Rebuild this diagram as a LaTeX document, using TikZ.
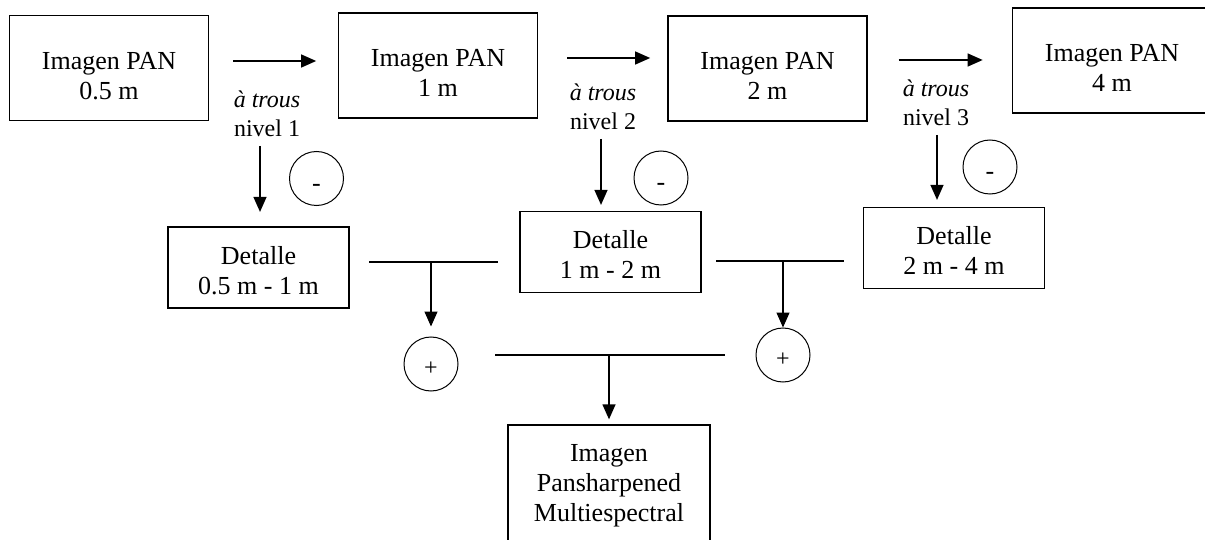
\documentclass[tikz,border=0pt]{standalone}
\usepackage{fontspec}
\setmainfont{Liberation Serif}
\usetikzlibrary{arrows.meta}
\newcommand{\pantop}{\rule{0pt}{33pt}}
\newcommand{\dettop}{\rule{0pt}{24pt}}
\tikzset{
  box/.style    = {shape=rectangle, draw, line width=1.3pt, align=center,
                   inner sep=0pt, font=\fontsize{26}{30}\selectfont},
  panbox/.style = {box, minimum width=199pt, minimum height=105pt},
  detbox/.style = {box, minimum width=181pt, minimum height=81pt},
  trous/.style  = {align=center, inner sep=0pt,
                   font=\fontsize{24}{28.5}\selectfont},
  minus/.style  = {circle, draw, line width=1pt, minimum size=54pt, inner sep=0pt,
                   text height=26pt, text depth=0pt, font=\fontsize{26}{26}\selectfont},
  plus/.style   = {minus, text height=22pt, font=\fontsize{24}{24}\selectfont},
  arr/.style    = {line width=1.3pt, -{Triangle[length=15pt,width=13pt]}},
  bar/.style    = {line width=1.2pt}
}

\begin{document}
\begin{tikzpicture}[x=1pt, y=-1pt]
  \useasboundingbox (0,0) rectangle (1205,540);
  \clip (0,0) rectangle (1205,540);

  % images PAN
  \node[panbox] (pan1) at (109,68)     {\pantop Imagen PAN\\0.5 m};
  \node[panbox] (pan2) at (438,65.5)   {\pantop Imagen PAN\\1 m};
  \node[panbox] (pan3) at (767.5,68.5) {\pantop Imagen PAN\\2 m};
  \node[panbox] (pan4) at (1112,60.5)  {\pantop Imagen PAN\\4 m};

  \draw[arr] ([shift={(24,-7)}]pan1.east) -- +(83,0);
  \draw[arr] ([shift={(29,-7.5)}]pan2.east) -- +(83,0);
  \draw[arr] ([shift={(31,-8.5)}]pan3.east) -- +(84,0);

  \node[trous] (lvl1) at (267,114)   {\textit{à trous}\\nivel 1};
  \node[trous] (lvl2) at (603,107)   {\textit{à trous}\\nivel 2};
  \node[trous] (lvl3) at (936,103)   {\textit{à trous}\\nivel 3};

  % detalles
  \node[detbox] (det1) at (258.5,267.5) {\dettop Detalle\\0.5 m - 1 m};
  \node[detbox] (det2) at (610.5,252)   {\dettop Detalle\\1 m - 2 m};
  \node[detbox] (det3) at (954,248)     {\dettop Detalle\\2 m - 4 m};

  \draw[arr] ([shift={(-7,9)}]lvl1.south) -- +(0,66);
  \draw[arr] ([shift={(-2,9)}]lvl2.south) -- +(0,66);
  \draw[arr] ([shift={(1,9)}]lvl3.south) -- +(0,65);

  \node[minus] (m1) at (316.5,178.5) {-};
  \node[minus] (m2) at (661,178)     {-};
  \node[minus] (m3) at (990,167)     {-};

  % suma
  \node[plus] (p1) at (431,364) {+};
  \node[plus] (p2) at (783,355) {+};

  \coordinate (j1a) at (369,262);
  \coordinate (j1b) at (498,262);
  \coordinate (j2a) at (716,261);
  \coordinate (j2b) at (844,261);
  \coordinate (j3a) at (495,355);
  \coordinate (j3b) at (725,355);

  \node[box, minimum width=202pt, minimum height=118pt] (res) at (609,484)
    {\rule{0pt}{21pt}Imagen\\Pansharpened\\Multiespectral};

  \draw[bar] (j1a) -- (j1b);
  \draw[bar] (j2a) -- (j2b);
  \draw[bar] (j3a) -- (j3b);
  \draw[arr] (p1 |- j1a) -- ([yshift=10pt]p1.north);
  \draw[arr] (p2 |- j2a) -- (p2.north);
  \draw[arr] (res |- j3a) -- ([yshift=5pt]res.north);
\end{tikzpicture}
\end{document}
